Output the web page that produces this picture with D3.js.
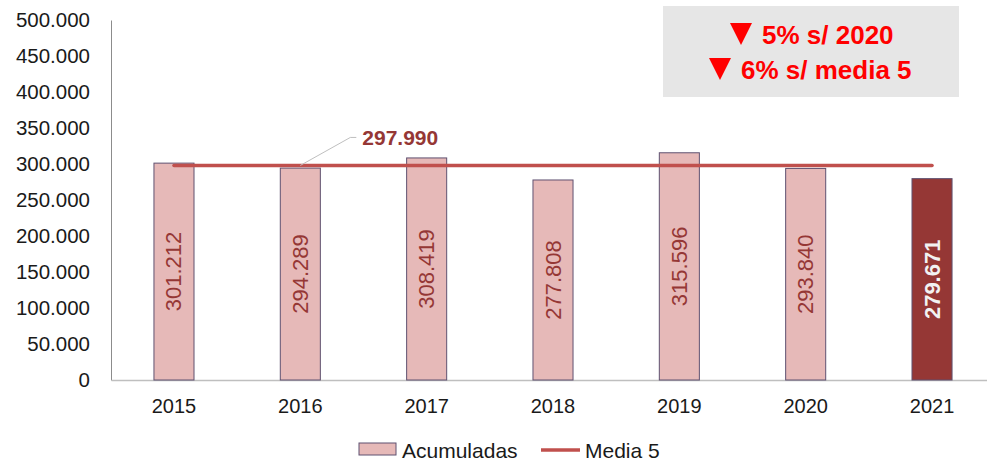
<!DOCTYPE html>
<html lang="en">
<head>
    <meta charset="utf-8">
    <title>Acumuladas</title>
    <script type="text/javascript" src="https://cdn.jsdelivr.net/npm/d3@7"></script>
    <style>
        body{ margin:0; background:#fff; font-family: "Liberation Sans", Arial, sans-serif;}
    </style>
</head>
<body>
    <div class="chart"></div>
    <script type="text/javascript">
        // data
        const years = ["2015", "2016", "2017", "2018", "2019", "2020", "2021"];
        const acumuladas = [301212, 294289, 308419, 277808, 315596, 293840, 279671];
        const media5 = 297990;
        const yTicks = [0, 50000, 100000, 150000, 200000, 250000, 300000, 350000, 400000, 450000, 500000];
        const boxLines = ["5% s/ 2020", "6% s/ media 5"];

        const W = 987, H = 460;
        const fmt = d => d3.format(",")(d).replace(/,/g, ".");

        const svg = d3.select('.chart')
            .append('svg')
            .attr("width", W)
            .attr("height", H);

        const xScale = d3.scaleBand()
            .domain(years)
            .range([111, 995])
            .paddingInner(0.683)
            .paddingOuter(0.34);

        const yScale = d3.scaleLinear()
            .domain([0, 500000])
            .range([380, 20]);

        // y axis
        const yAxis = d3.axisLeft(yScale)
            .tickValues(yTicks)
            .tickSize(0)
            .tickPadding(21)
            .tickFormat(d => d === 0 ? "0" : fmt(d));
        const yG = svg.append("g")
            .attr("transform", "translate(111,0)")
            .call(yAxis);
        yG.select(".domain").attr("stroke", "#8c8c8c");
        yG.selectAll("text")
            .attr("font-family", "Liberation Sans, Arial, sans-serif")
            .attr("font-size", 20.5)
            .attr("fill", "#1a1a1a");

        // x axis
        const xAxis = d3.axisBottom(xScale).tickSize(0).tickPadding(19);
        const xG = svg.append("g")
            .attr("transform", "translate(0,380)")
            .call(xAxis);
        xG.select(".domain").attr("stroke", "#bfbfbf").attr("stroke-width", 1.5);
        xG.selectAll("text")
            .attr("font-family", "Liberation Sans, Arial, sans-serif")
            .attr("font-size", 20)
            .attr("fill", "#1a1a1a");

        // bars
        svg.selectAll("rect.bar")
            .data(years)
            .enter()
            .append("rect")
            .attr("class", "bar")
            .attr("x", d => xScale(d))
            .attr("y", (d, i) => yScale(acumuladas[i]))
            .attr("width", xScale.bandwidth())
            .attr("height", (d, i) => yScale(0) - yScale(acumuladas[i]))
            .attr("fill", (d, i) => i === years.length - 1 ? "#953735" : "#e6b9b8")
            .attr("stroke", "#5f5170")
            .attr("stroke-width", 1);

        // labels inside bars
        svg.selectAll("text.val")
            .data(years)
            .enter()
            .append("text")
            .attr("class", "val")
            .attr("transform", (d, i) => {
                const cx = xScale(d) + xScale.bandwidth() / 2;
                const cy = (yScale(acumuladas[i]) + yScale(0)) / 2;
                return `translate(${cx},${cy}) rotate(-90)`;
            })
            .attr("text-anchor", "middle")
            .attr("dominant-baseline", "central")
            .attr("font-size", 22)
            .attr("font-weight", (d, i) => i === years.length - 1 ? "bold" : "normal")
            .attr("fill", (d, i) => i === years.length - 1 ? "#f2f2f2" : "#953735")
            .text((d, i) => fmt(acumuladas[i]));

        // media 5 line
        const x0 = xScale(years[0]) + xScale.bandwidth() / 2;
        const x1 = xScale(years[years.length - 1]) + xScale.bandwidth() / 2;
        svg.append("line")
            .attr("x1", x0).attr("x2", x1)
            .attr("y1", yScale(media5)).attr("y2", yScale(media5))
            .attr("stroke", "#c0504d")
            .attr("stroke-width", 3.5)
            .attr("stroke-linecap", "round");

        // leader line + label
        const lx = xScale(years[1]) + xScale.bandwidth() / 2;
        svg.append("polyline")
            .attr("points", `${lx},${yScale(media5)} ${lx + 50},${yScale(media5) - 28} ${lx + 56},${yScale(media5) - 28}`)
            .attr("fill", "none")
            .attr("stroke", "#bfbfbf")
            .attr("stroke-width", 1);
        svg.append("text")
            .attr("x", lx + 62)
            .attr("y", yScale(media5) - 28)
            .attr("dominant-baseline", "central")
            .attr("font-size", 21)
            .attr("font-weight", "bold")
            .attr("fill", "#953735")
            .text(fmt(media5));

        // summary box
        const box = svg.append("g");
        box.append("rect")
            .attr("x", 663).attr("y", 6)
            .attr("width", 296).attr("height", 91)
            .attr("fill", "#e6e6e6");
        const lineY = [35, 70];
        const triX = [741, 720];
        boxLines.forEach((t, i) => {
            box.append("path")
                .attr("d", `M${triX[i] - 11},${lineY[i] - 12} L${triX[i] + 11},${lineY[i] - 12} L${triX[i]},${lineY[i] + 10} Z`)
                .attr("fill", "#ff0000");
            box.append("text")
                .attr("x", triX[i] + 21)
                .attr("y", lineY[i])
                .attr("dominant-baseline", "central")
                .attr("font-size", 26)
                .attr("font-weight", "bold")
                .attr("fill", "#ff0000")
                .text(t);
        });

        // legend
        const legend = svg.append("g");
        legend.append("rect")
            .attr("x", 359).attr("y", 443)
            .attr("width", 37).attr("height", 12)
            .attr("fill", "#e6b9b8")
            .attr("stroke", "#5f5170");
        legend.append("text")
            .attr("x", 402).attr("y", 450)
            .attr("dominant-baseline", "central")
            .attr("font-size", 21)
            .attr("fill", "#1a1a1a")
            .text("Acumuladas");
        legend.append("line")
            .attr("x1", 541).attr("x2", 580)
            .attr("y1", 450).attr("y2", 450)
            .attr("stroke", "#c0504d")
            .attr("stroke-width", 3.5);
        legend.append("text")
            .attr("x", 585).attr("y", 450)
            .attr("dominant-baseline", "central")
            .attr("font-size", 21)
            .attr("fill", "#1a1a1a")
            .text("Media 5");
    </script>
</body>
</html>
